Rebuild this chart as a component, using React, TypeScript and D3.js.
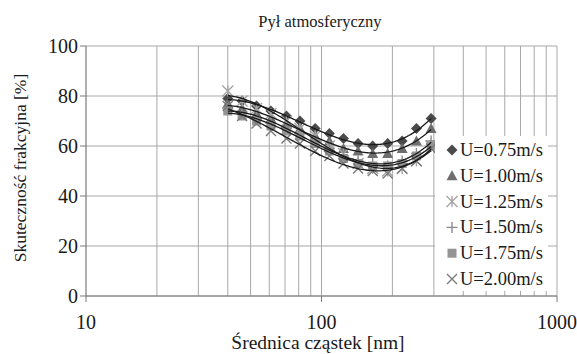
import React from "react";
import * as d3 from "d3";

const sizes = [40, 46, 53, 61, 71, 81, 94, 108, 124, 143, 165, 191, 220, 253, 292];
const seriesNames = ["U=0.75m/s", "U=1.00m/s", "U=1.25m/s", "U=1.50m/s", "U=1.75m/s", "U=2.00m/s"];
const u075 = [79, 78, 76, 74, 72, 70, 67, 65, 63, 61, 60, 61, 62, 67, 71];
const u100 = [77, 75, 73, 71, 69, 67, 64, 62, 59, 58, 57, 57, 59, 62, 67];
const u125 = [82, 78, 75, 73, 70, 67, 64, 60, 57, 53, 51, 50, 51, 54, 60];
const u150 = [75, 73, 71, 69, 67, 65, 62, 59, 56, 54, 53, 52, 54, 57, 62];
const u175 = [74, 72, 70, 68, 66, 64, 61, 58, 55, 53, 52, 52, 53, 56, 60];
const u200 = [76, 72, 69, 66, 63, 61, 58, 56, 53, 51, 50, 49, 51, 54, 59];
const seriesValues = [u075, u100, u125, u150, u175, u200];
const yTicks = [0, 20, 40, 60, 80, 100];
const xTicks = [10, 100, 1000];
const title = "Pył atmosferyczny";
const xTitle = "Średnica cząstek [nm]";
const yTitle = "Skuteczność frakcyjna [%]";

const markerColors = ["#4a4a4a", "#6e6e6e", "#a5a5a5", "#8a8a8a", "#949494", "#7a7a7a"];

function polyfit(xs: number[], ys: number[], order: number) {
  const n = order + 1;
  const A: number[][] = Array.from({ length: n }, () => new Array(n + 1).fill(0));
  for (let i = 0; i < xs.length; i++) {
    for (let r = 0; r < n; r++) {
      for (let c = 0; c < n; c++) A[r][c] += Math.pow(xs[i], r + c);
      A[r][n] += ys[i] * Math.pow(xs[i], r);
    }
  }
  for (let i = 0; i < n; i++) {
    let max = i;
    for (let k = i + 1; k < n; k++) if (Math.abs(A[k][i]) > Math.abs(A[max][i])) max = k;
    [A[i], A[max]] = [A[max], A[i]];
    for (let k = i + 1; k < n; k++) {
      const f = A[k][i] / A[i][i];
      for (let j = i; j <= n; j++) A[k][j] -= f * A[i][j];
    }
  }
  const coef = new Array(n).fill(0);
  for (let i = n - 1; i >= 0; i--) {
    let s = A[i][n];
    for (let j = i + 1; j < n; j++) s -= A[i][j] * coef[j];
    coef[i] = s / A[i][i];
  }
  return (x: number) => coef.reduce((acc, c, i) => acc + c * Math.pow(x, i), 0);
}

function markerPath(kind: number, cx: number, cy: number): { d: string; stroke: boolean } {
  switch (kind) {
    case 0: {
      const r = 5.5;
      return { d: `M${cx},${cy - r}L${cx + r},${cy}L${cx},${cy + r}L${cx - r},${cy}Z`, stroke: false };
    }
    case 1: {
      const r = 5.5;
      return { d: `M${cx},${cy - r}L${cx + r},${cy + r * 0.8}L${cx - r},${cy + r * 0.8}Z`, stroke: false };
    }
    case 2: {
      const r = 5.5;
      return {
        d: `M${cx - r},${cy - r}L${cx + r},${cy + r}M${cx + r},${cy - r}L${cx - r},${cy + r}M${cx},${cy - r}L${cx},${cy + r}`,
        stroke: true,
      };
    }
    case 3: {
      const r = 5.5;
      return { d: `M${cx - r},${cy}L${cx + r},${cy}M${cx},${cy - r}L${cx},${cy + r}`, stroke: true };
    }
    case 4: {
      const r = 4.5;
      return { d: `M${cx - r},${cy - r}H${cx + r}V${cy + r}H${cx - r}Z`, stroke: false };
    }
    default: {
      const r = 5;
      return { d: `M${cx - r},${cy - r}L${cx + r},${cy + r}M${cx + r},${cy - r}L${cx - r},${cy + r}`, stroke: true };
    }
  }
}

function Marker({ kind, cx, cy }: { kind: number; cx: number; cy: number }) {
  const m = markerPath(kind, cx, cy);
  const col = markerColors[kind];
  return m.stroke ? (
    <path d={m.d} fill="none" stroke={col} strokeWidth={1.4} />
  ) : (
    <path d={m.d} fill={col} stroke="none" />
  );
}

export default function App() {
  const W = 577, H = 354;
  const x = d3.scaleLog().domain([10, 1000]).range([86, 557]);
  const y = d3.scaleLinear().domain([0, 100]).range([296, 46]);
  const gridX: number[] = [];
  for (let d = 1; d <= 2; d++) for (let k = 1; k <= 10; k++) gridX.push(k * Math.pow(10, d));
  const uniqGridX = Array.from(new Set(gridX)).filter((v) => v > 10 && v <= 1000);

  const font = "'Liberation Serif', 'Times New Roman', serif";
  const textCol = "#1a1a1a";
  const gridCol = "#a8a8a8";

  const trendFns = seriesValues.map((vals) => polyfit(sizes.map((s) => Math.log10(s)), vals, 3));
  const samples = d3.range(0, 101).map((i) => Math.log10(sizes[0]) + (Math.log10(sizes[sizes.length - 1]) - Math.log10(sizes[0])) * (i / 100));
  const line = d3
    .line<number>()
    .x((lx) => x(Math.pow(10, lx)))
    .curve(d3.curveLinear);

  const legX = 435, legY = 136, legW = 113, legH = 155;
  const legRowY = (i: number) => 150 + i * 25.8;

  return (
    <svg width={W} height={H} style={{ position: "absolute", left: 0, top: 0, background: "#fff" }} fontFamily={font}>
      <rect x={0} y={0} width={W} height={H} fill="#fff" />
      <text x={320} y={27} textAnchor="middle" fontSize={16.5} fill={textCol}>{title}</text>
      {yTicks.map((t) => (
        <line key={"gy" + t} x1={86} x2={557} y1={y(t)} y2={y(t)} stroke={gridCol} strokeWidth={1} />
      ))}
      {uniqGridX.map((t) => (
        <line key={"gx" + t} x1={x(t)} x2={x(t)} y1={46} y2={296} stroke={gridCol} strokeWidth={1} />
      ))}
      <line x1={86} x2={86} y1={46} y2={296} stroke="#7a7a7a" strokeWidth={1.2} />
      <line x1={86} x2={557} y1={296} y2={296} stroke="#7a7a7a" strokeWidth={1.2} />
      {yTicks.map((t) => (
        <g key={"yt" + t}>
          <line x1={80} x2={86} y1={y(t)} y2={y(t)} stroke="#7a7a7a" />
          <text x={78} y={y(t) + 6.5} textAnchor="end" fontSize={20} fill={textCol}>{t}</text>
        </g>
      ))}
      {xTicks.map((t) => (
        <g key={"xt" + t}>
          <line x1={x(t)} x2={x(t)} y1={296} y2={302} stroke="#7a7a7a" />
          <text x={x(t)} y={329} textAnchor="middle" fontSize={20} fill={textCol}>{t}</text>
        </g>
      ))}
      <text x={318} y={349} textAnchor="middle" fontSize={19.5} fill={textCol}>{xTitle}</text>
      <text transform={`translate(26,168) rotate(-90)`} textAnchor="middle" fontSize={17.5} fill={textCol}>{yTitle}</text>

      {seriesValues.map((vals, si) => (
        <g key={"s" + si}>
          {vals.map((v, i) => (
            <Marker key={i} kind={si} cx={x(sizes[i])} cy={y(v)} />
          ))}
        </g>
      ))}
      {trendFns.map((fn, si) => (
        <path
          key={"tr" + si}
          d={line.y((lx) => y(fn(lx)))(samples) || ""}
          fill="none"
          stroke="#1a1a1a"
          strokeWidth={1.3}
        />
      ))}

      <rect x={legX} y={legY} width={legW} height={legH} fill="#fff" />
      {seriesNames.map((name, i) => (
        <g key={"lg" + i}>
          <Marker kind={i} cx={452} cy={legRowY(i)} />
          <text x={460} y={legRowY(i) + 6} fontSize={18.5} fill={textCol}>{name}</text>
        </g>
      ))}
    </svg>
  );
}
